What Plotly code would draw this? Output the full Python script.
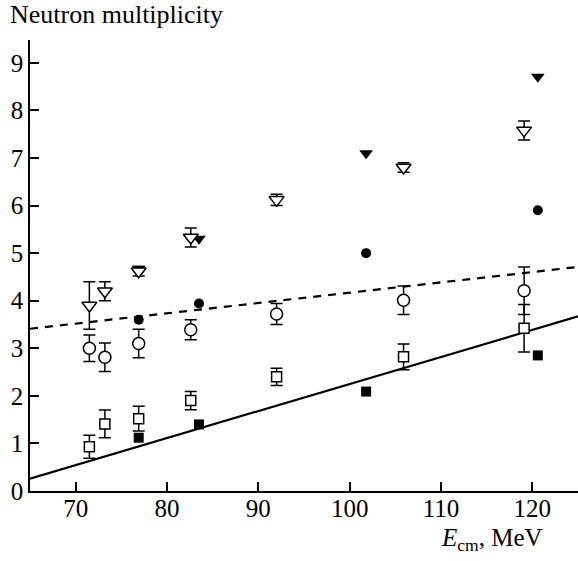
import plotly.graph_objects as go

# Data
E_open = [71.5, 73.2, 76.9, 82.6, 92.0, 105.9, 119.1]
tri_open = [3.9, 4.2, 4.62, 5.33, 6.12, 6.8, 7.58]
tri_open_err = [0.5, 0.2, 0.1, 0.2, 0.12, 0.1, 0.2]
circ_open = [3.0, 2.81, 3.1, 3.39, 3.72, 4.01, 4.21]
circ_open_err = [0.28, 0.3, 0.3, 0.21, 0.22, 0.3, 0.5]
sq_open = [0.93, 1.41, 1.52, 1.9, 2.4, 2.82, 3.42]
sq_open_err = [0.24, 0.29, 0.26, 0.19, 0.18, 0.27, 0.5]

E_filled = [76.9, 83.5, 101.8, 120.6]
tri_filled = [4.67, 5.3, 7.1, 8.71]
circ_filled = [3.6, 3.94, 5.0, 5.9]
sq_filled = [1.12, 1.40, 2.09, 2.85]

E_fit = [65, 125]
fit_solid = [0.26, 3.67]
fit_dashed = [3.41, 4.71]

x_ticks = [70, 80, 90, 100, 110, 120]
y_ticks = [0, 1, 2, 3, 4, 5, 6, 7, 8, 9]

FONT = "Liberation Serif"
fig = go.Figure()

fig.add_trace(go.Scatter(x=E_fit, y=fit_dashed, mode="lines",
                         line=dict(color="black", width=2.2, dash="8px,7px")))
fig.add_trace(go.Scatter(x=E_fit, y=fit_solid, mode="lines",
                         line=dict(color="black", width=2.2)))

def err(arr):
    return dict(type="data", array=arr, visible=True, color="black", thickness=1.5, width=6)

fig.add_trace(go.Scatter(x=E_filled, y=tri_filled, mode="markers",
                         marker=dict(symbol="triangle-down", size=12, color="black")))
fig.add_trace(go.Scatter(x=E_filled, y=circ_filled, mode="markers",
                         marker=dict(symbol="circle", size=10, color="black")))
fig.add_trace(go.Scatter(x=E_filled, y=sq_filled, mode="markers",
                         marker=dict(symbol="square", size=10, color="black")))

fig.add_trace(go.Scatter(x=E_open, y=tri_open, mode="markers", error_y=err(tri_open_err),
                         marker=dict(symbol="triangle-down", size=13, color="white",
                                     line=dict(color="black", width=1.5))))
fig.add_trace(go.Scatter(x=E_open, y=circ_open, mode="markers", error_y=err(circ_open_err),
                         marker=dict(symbol="circle", size=12, color="white",
                                     line=dict(color="black", width=1.5))))
fig.add_trace(go.Scatter(x=E_open, y=sq_open, mode="markers", error_y=err(sq_open_err),
                         marker=dict(symbol="square", size=10, color="white",
                                     line=dict(color="black", width=1.5))))

axis_common = dict(showline=True, linecolor="black", linewidth=1.5, mirror=False,
                   ticks="inside", ticklen=9, tickwidth=1.5, tickcolor="black",
                   showgrid=False, zeroline=False,
                   tickfont=dict(family=FONT, size=25, color="black"))

fig.update_xaxes(range=[65, 125], tickvals=x_ticks, ticktext=[str(v) for v in x_ticks],
                 ticklabelstandoff=-6, **axis_common)
fig.update_yaxes(range=[0, 9.48], tickvals=y_ticks, ticktext=[str(v) for v in y_ticks], **axis_common)

fig.update_layout(
    width=578, height=561,
    margin=dict(l=30, r=0, t=40, b=70),
    paper_bgcolor="white", plot_bgcolor="white",
    showlegend=False,
    font=dict(family=FONT, size=25, color="black"),
    annotations=[
        dict(text="Neutron multiplicity", xref="paper", yref="paper",
             x=-0.04, y=1.057, xanchor="left", yanchor="middle", showarrow=False,
             font=dict(family=FONT, size=26, color="black")),
        dict(text="<i>E</i><sub>cm</sub>, MeV", xref="paper", yref="paper",
             x=0.94, y=-0.108, xanchor="right", yanchor="middle", showarrow=False,
             font=dict(family=FONT, size=25, color="black")),
    ],
)

fig.write_html("out.html")
